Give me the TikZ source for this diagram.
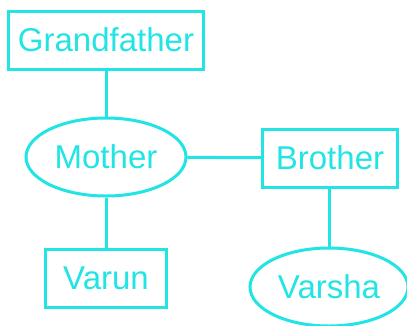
\documentclass[tikz,border=0pt]{standalone}
\usepackage{fontspec}
\setmainfont{Liberation Sans}
\usetikzlibrary{shapes.geometric}
\definecolor{treecyan}{RGB}{34,228,228}
\tikzset{
  person/.style={draw=treecyan, line width=3pt, text=treecyan, font=\fontsize{33}{33}\selectfont, inner sep=0pt},
  male/.style={person, rectangle},
  female/.style={person, ellipse}
}

\begin{document}
\begin{tikzpicture}[x=1pt, y=-1pt]
            \useasboundingbox (0, 0) rectangle (407, 325);
            \node[male, minimum width=195pt, minimum height=58pt] (gf) at (106, 40) {Grandfather};
            \node[female, minimum width=160pt, minimum height=78pt] (mother) at (106, 157) {Mother};
            \node[male, minimum width=135pt, minimum height=58pt] (brother) at (330, 158) {Brother};
            \node[male, minimum width=121pt, minimum height=58pt] (varun) at (106, 278) {Varun};
            \node[female, minimum width=158pt, minimum height=78pt] (varsha) at (329, 287) {Varsha};
            \draw[treecyan, line width=3pt] (gf) -- (mother);
            \draw[treecyan, line width=3pt] (mother) -- (brother);
            \draw[treecyan, line width=3pt] (mother) -- (varun);
            \draw[treecyan, line width=3pt] (brother.south -| varsha.north) -- (varsha.north);
        \end{tikzpicture}
\end{document}
